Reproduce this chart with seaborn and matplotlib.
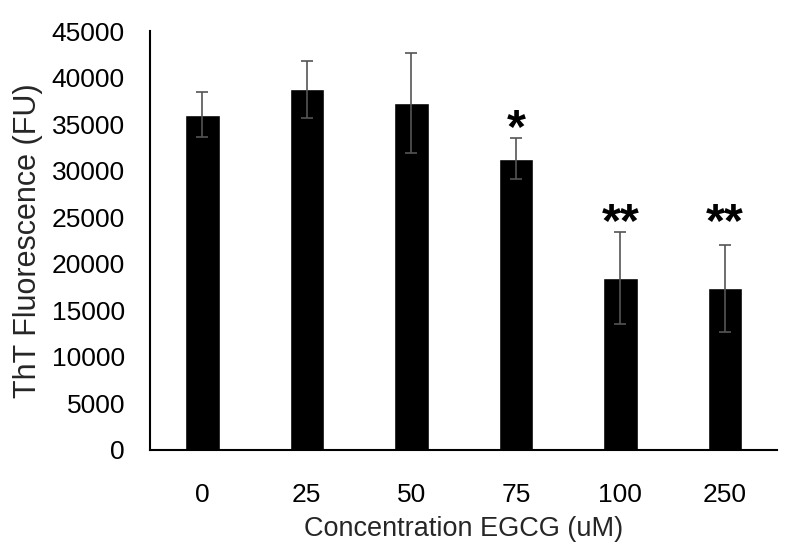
import pandas as pd
import matplotlib
matplotlib.use('Agg')
import matplotlib.pyplot as plt
import seaborn as sns

# values
concentrations = ['0', '25', '50', '75', '100', '250']
fluorescence = [36000, 38750, 37250, 31300, 18450, 17350]
errors = [2400, 3050, 5400, 2200, 4950, 4700]
stars = ['', '', '', '*', '**', '**']

df = pd.DataFrame({'conc': concentrations, 'fu': fluorescence})

sns.set_style('white')
plt.rcParams['font.family'] = ['Liberation Sans', 'DejaVu Sans']

fig = plt.figure(figsize=(8, 5.54), dpi=100)
ax = fig.add_axes([0.1875, 0.188, 0.784, 0.756])

sns.barplot(data=df, x='conc', y='fu', color='black', width=0.33,
            saturation=1, errorbar=None, ax=ax)

# error bars drawn on the category positions
xs = list(range(len(concentrations)))
ax.errorbar(xs, fluorescence, yerr=errors, fmt='none', ecolor='#555555',
            elinewidth=1.2, capsize=4, capthick=1.2)

# significance stars, same level within each group of marks
tops = [v + e for v, e in zip(fluorescence, errors)]
for x, s in zip(xs, stars):
    if s:
        level = max(t for t, m in zip(tops, stars) if m == s)
        ax.text(x, level - 400, s, ha='center', va='baseline',
                fontsize=35, fontweight='bold', color='black')

ax.set_ylim(0, 45000)
ax.set_xlim(-0.5, 5.5)
ax.set_yticks(range(0, 45001, 5000))
ax.tick_params(axis='both', length=0, labelsize=19, colors='black')
ax.tick_params(axis='x', pad=24)
ax.tick_params(axis='y', pad=18)
ax.set_xlabel('Concentration EGCG (uM)', fontsize=19.5, labelpad=6)
ax.set_ylabel('ThT Fluorescence (FU)', fontsize=22)
ax.yaxis.set_label_coords(-0.171, 0.5)

sns.despine(ax=ax)
for side in ['left', 'bottom']:
    ax.spines[side].set_color('black')
    ax.spines[side].set_linewidth(1.5)

fig.savefig('out.png', dpi=100)
